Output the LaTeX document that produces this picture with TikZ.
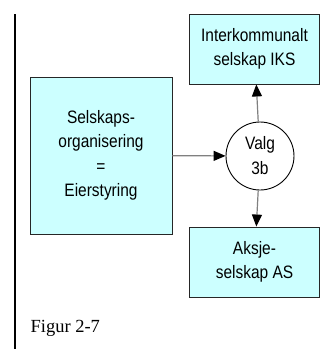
\documentclass[tikz,border=0pt]{standalone}
\usepackage{fontspec}
\setmainfont{Liberation Serif}
\newfontfamily\boxfont[FakeStretch=0.86]{Liberation Sans}
\usetikzlibrary{arrows.meta}
\definecolor{boxcyan}{HTML}{CCFFFF}
\begin{document}
\begin{tikzpicture}[x=1pt,y=-1pt,->,>={Triangle[length=12pt,width=10pt,color=black]},
                line width=1.2pt,
                box node/.style={rectangle,draw=black!85,line width=0.9pt,fill=boxcyan,
                  align=center,inner sep=0pt,font=\boxfont\fontsize{18}{24.5}\selectfont},
                choice node/.style={circle,draw=black,line width=0.9pt,fill=white,
                  minimum size=68pt,inner sep=0pt,align=center,
                  font=\boxfont\fontsize{18}{25}\selectfont}]
  \useasboundingbox (0,0) rectangle (320,349);
  \draw[-,line width=1.8pt] (15,14) -- (15,349);

  \node[box node,minimum width=142pt,minimum height=157pt] (1) at (101,155.5)
    {Selskaps-\\organisering\\=\\Eierstyring};
  \node[choice node] (2) at (260,156) {Valg\\3b};
  \node[box node,minimum width=130pt,minimum height=70pt] (3) at (254.5,49)
    {Interkommunalt\\selskap IKS};
  \node[box node,minimum width=130pt,minimum height=70pt] (4) at (254.5,262)
    {Aksje-\\selskap AS};

  \path[draw=black!50]
    (1) edge (2)
    (2) edge (3)
    (2) edge (4)
  ;

  \node[anchor=base west,inner sep=0pt,font=\fontsize{18.5}{22}\selectfont] (5) at (30,332) {Figur 2-7};
\end{tikzpicture}
\end{document}
